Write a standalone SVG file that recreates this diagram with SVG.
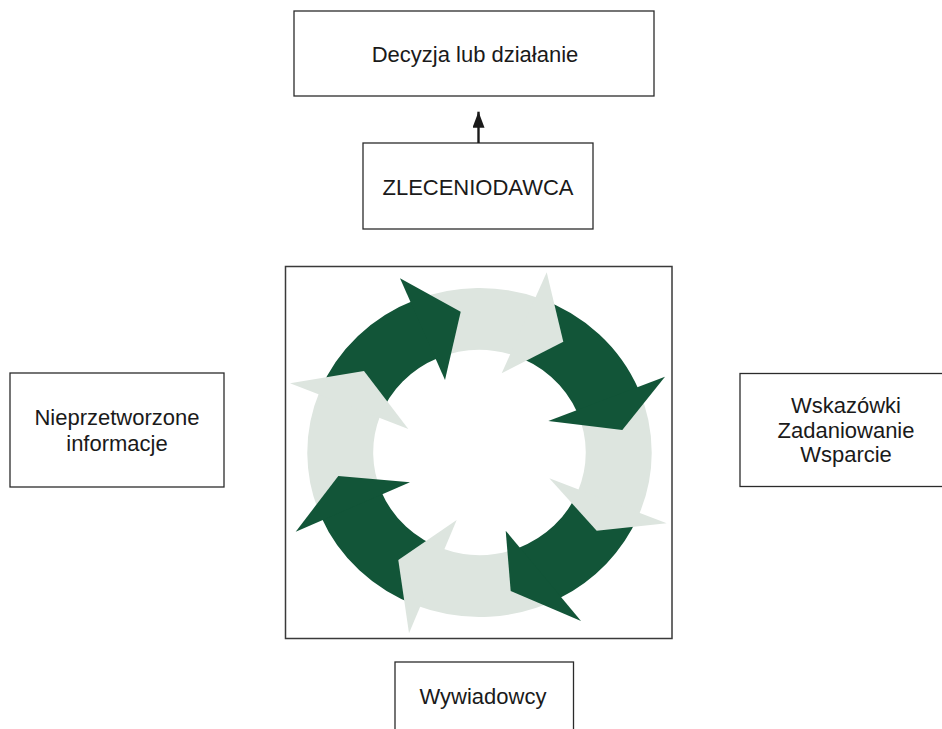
<svg xmlns="http://www.w3.org/2000/svg" width="942" height="729" viewBox="0 0 942 729">
<style>
.box{fill:#fff;stroke:#2b2b2b;stroke-width:1.3}
.lbl{font-family:"Liberation Sans",Arial,sans-serif;font-size:22px;fill:#1a1a1a;text-anchor:middle}
.dk{fill:#125538}
.lt{fill:#dde5df}
</style>
<defs>
<marker id="ah" markerWidth="16" markerHeight="12" refX="16" refY="6" viewBox="0 0 16 12" orient="auto" markerUnits="userSpaceOnUse">
<path d="M0,0 L16,6 L0,12 Z" fill="#1a1a1a"/>
</marker>
</defs>
<rect width="942" height="729" fill="#fff"/>
<g id="decyzja">
<rect class="box" x="294" y="11" width="360" height="85"/>
<text class="lbl" x="475" y="62">Decyzja lub działanie</text>
</g>
<g id="zleceniodawca">
<rect class="box" x="363" y="143" width="230" height="86"/>
<text class="lbl" x="478" y="195">ZLECENIODAWCA</text>
</g>
<g id="cykl">
<rect x="285.5" y="266.5" width="386.5" height="372" fill="#fff" stroke="#3a3a3a" stroke-width="1.5"/>
<g id="shafts">
<path class="dk" d="M319.8,390.9 A172.2 164.5 0 0 1 415.0,300.0 L438.0,358.1 A106.3 102.5 0 0 0 379.9,416.6 Z"/>
<path class="lt" d="M415.0,300.0 A172.2 164.5 0 0 1 539.8,298.4 L512.3,355.0 A106.3 102.5 0 0 0 438.0,358.1 Z"/>
<path class="dk" d="M539.8,298.4 A172.2 164.5 0 0 1 638.6,389.5 L577.3,412.5 A106.3 102.5 0 0 0 512.3,355.0 Z"/>
<path class="lt" d="M638.6,389.5 A172.2 164.5 0 0 1 638.0,516.8 L577.7,491.7 A106.3 102.5 0 0 0 577.3,412.5 Z"/>
<path class="dk" d="M638.0,516.8 A172.2 164.5 0 0 1 560.3,597.7 L518.5,547.9 A106.3 102.5 0 0 0 577.7,491.7 Z"/>
<path class="lt" d="M560.3,597.7 A172.2 164.5 0 0 1 416.4,605.6 L443.1,548.8 A106.3 102.5 0 0 0 518.5,547.9 Z"/>
<path class="dk" d="M416.4,605.6 A172.2 164.5 0 0 1 321.0,516.8 L381.3,491.7 A106.3 102.5 0 0 0 443.1,548.8 Z"/>
<path class="lt" d="M321.0,516.8 A172.2 164.5 0 0 1 319.8,390.9 L379.9,416.6 A106.3 102.5 0 0 0 381.3,491.7 Z"/>
</g>
<g id="heads">
<polygon class="dk" points="400,278.3 460.7,311.7 445,380"/>
<polygon class="lt" points="546.7,272.3 563.3,341.7 501.7,373.3"/>
<polygon class="dk" points="665,376.7 622.3,430 548.3,421"/>
<polygon class="lt" points="666.7,523.3 596.7,530.7 549.3,478.3"/>
<polygon class="dk" points="581,621 510.7,591 505.7,530.7"/>
<polygon class="lt" points="409,633.3 398.3,560 456.7,520"/>
<polygon class="dk" points="295.7,531.7 338.3,476 410,482.3"/>
<polygon class="lt" points="290,383.3 364,371 408.3,429"/>
</g>
</g>
<g id="nieprzetworzone">
<rect class="box" x="10" y="373" width="214" height="114"/>
<text class="lbl" x="117" y="425">Nieprzetworzone</text>
<text class="lbl" x="117" y="451">informacje</text>
</g>
<g id="wskazowki">
<rect class="box" x="740" y="373.5" width="230" height="113"/>
<text class="lbl" x="846" y="413">Wskazówki</text>
<text class="lbl" x="846" y="437.5">Zadaniowanie</text>
<text class="lbl" x="846" y="462">Wsparcie</text>
</g>
<g id="wywiadowcy">
<rect class="box" x="395" y="662" width="178.5" height="90"/>
<text class="lbl" x="483" y="704">Wywiadowcy</text>
</g>
<g id="connectors">
<line x1="478.5" y1="143" x2="478.5" y2="111.7" stroke="#1a1a1a" stroke-width="2.4" marker-end="url(#ah)"/>
</g>
</svg>
